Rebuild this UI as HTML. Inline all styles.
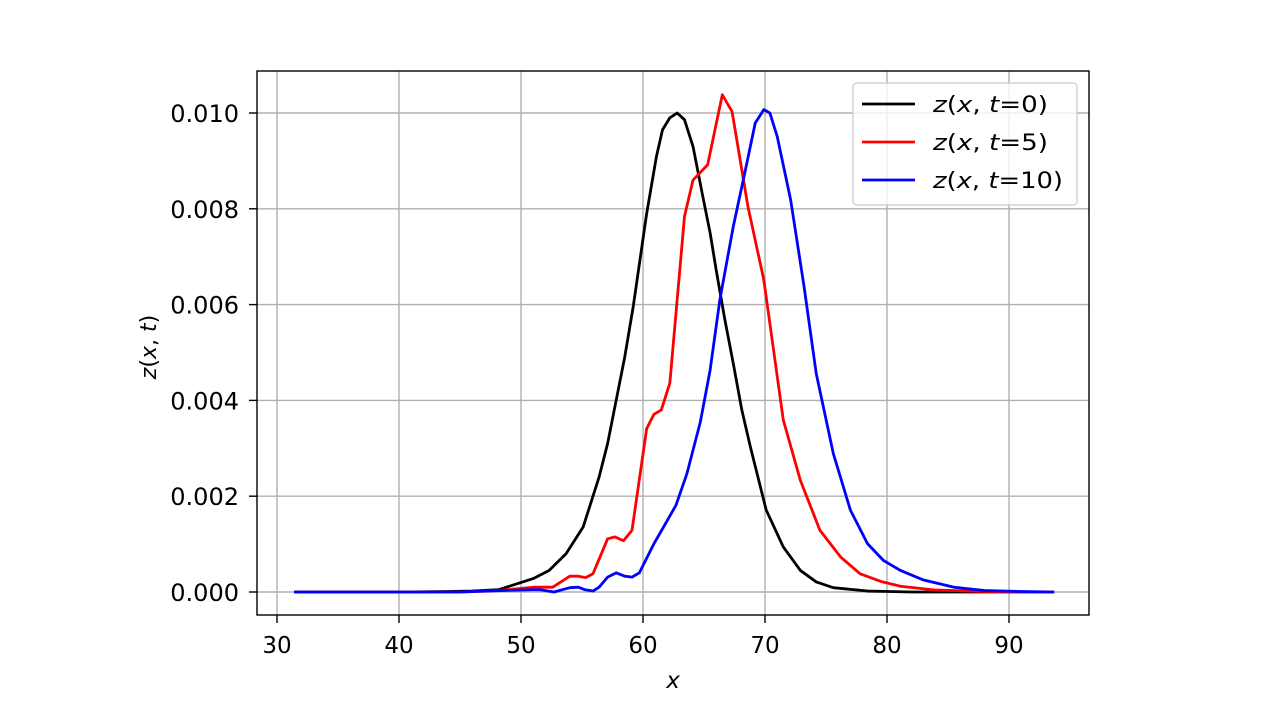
<!DOCTYPE html>
<html><head><meta charset="utf-8"><style>
body{margin:0;background:#fff;}
svg{display:block;font-family:"DejaVu Sans","Liberation Sans",sans-serif;}
</style></head><body>
<svg id="chart" width="1280" height="720">
<g id="grid"></g>
<g id="series"></g>
<rect x="257" y="71" width="832" height="544" fill="none" stroke="#000" stroke-width="1.4"/>
<g id="ticks"></g>
<text x="673" y="688" font-size="23" font-style="italic" text-anchor="middle">x</text>
<text transform="translate(156,347) rotate(-90)" font-size="22" text-anchor="middle"><tspan font-style="italic">z</tspan>(<tspan font-style="italic">x</tspan>, <tspan font-style="italic">t</tspan>)</text>
<g>
<rect x="853" y="83" width="224" height="122" rx="4" fill="#fff" fill-opacity="0.8" stroke="#ccc" stroke-width="1.3"/>
<line x1="862" y1="104" x2="915" y2="104" stroke="#000" stroke-width="2.8"/>
<text x="933" y="112" font-size="22" textLength="115" lengthAdjust="spacingAndGlyphs"><tspan font-style="italic">z</tspan>(<tspan font-style="italic">x</tspan>, <tspan font-style="italic">t</tspan>=0)</text>
<line x1="862" y1="142" x2="915" y2="142" stroke="#f00" stroke-width="2.8"/>
<text x="933" y="150" font-size="22" textLength="115" lengthAdjust="spacingAndGlyphs"><tspan font-style="italic">z</tspan>(<tspan font-style="italic">x</tspan>, <tspan font-style="italic">t</tspan>=5)</text>
<line x1="862" y1="180" x2="915" y2="180" stroke="#00f" stroke-width="2.8"/>
<text x="933" y="188" font-size="22" textLength="130" lengthAdjust="spacingAndGlyphs"><tspan font-style="italic">z</tspan>(<tspan font-style="italic">x</tspan>, <tspan font-style="italic">t</tspan>=10)</text>
</g>
</svg>
<script>
const xTicks=[30,40,50,60,70,80,90];
const yTicks=[0,0.002,0.004,0.006,0.008,0.010];
const yTickLabels=["0.000","0.002","0.004","0.006","0.008","0.010"];
const blackX=[31.4,40,44,46,48.2,51.0,52.3,53.7,55.1,56.4,57.1,57.8,58.5,59.2,60.3,61.1,61.6,62.2,62.8,63.4,64.1,64.9,65.5,66.0,66.7,67.4,68.1,68.8,70.1,71.5,72.9,74.2,75.6,78.4,82,93.7];
const blackY=[0,0,0.00001,0.00002,0.00005,0.00028,0.00045,0.0008,0.00136,0.0024,0.0031,0.004,0.0049,0.00596,0.0079,0.00909,0.00965,0.0099,0.01,0.00986,0.0093,0.00826,0.0075,0.00672,0.0057,0.00477,0.0038,0.00303,0.00171,0.00094,0.00045,0.00021,0.00009,0.00002,0,0];
const redX=[31.4,45,48.2,51.0,52.6,54.0,54.7,55.3,55.9,57.1,57.7,58.4,59.1,60.3,60.9,61.5,62.2,63.4,64.1,65.3,66.5,67.3,68.6,69.9,71.5,72.9,74.5,76.2,77.8,79.5,81.1,84,88,93.7];
const redY=[0,0,0.00003,0.0001,0.0001,0.00033,0.00033,0.0003,0.00038,0.00111,0.00115,0.00107,0.00129,0.00341,0.00371,0.0038,0.00436,0.00784,0.0086,0.00892,0.01038,0.01003,0.00805,0.00652,0.00359,0.00233,0.00129,0.00073,0.00038,0.00022,0.00012,0.00004,0.00001,0];
const blueX=[31.4,45,48.2,51.5,52.7,54.0,54.7,55.2,55.9,56.4,57.1,57.8,58.5,59.1,59.7,60.9,61.6,62.7,63.6,64.7,65.5,66.3,67.4,68.4,69.2,69.9,70.4,71.0,72.1,73.2,74.2,75.6,77.0,78.4,79.7,81.1,83,85.5,88,91,93.7];
const blueY=[0,0,0.00003,0.00005,0,0.00009,0.0001,0.00005,0.00002,0.0001,0.00031,0.0004,0.00033,0.00031,0.0004,0.00101,0.00132,0.00181,0.00247,0.00355,0.00463,0.0061,0.00763,0.00882,0.00979,0.01007,0.01,0.00951,0.00819,0.00638,0.00456,0.00289,0.00171,0.00101,0.00066,0.00045,0.00025,0.0001,0.00003,0.00001,0];
const X=v=>277+(v-30)*12.2;
const Y=v=>592-v*47900;
const NS='http://www.w3.org/2000/svg';
const grid=document.getElementById('grid'),ticks=document.getElementById('ticks'),ser=document.getElementById('series');
function mk(tag,attrs,parent){const e=document.createElementNS(NS,tag);for(const k in attrs)e.setAttribute(k,attrs[k]);parent.appendChild(e);return e;}
xTicks.forEach(v=>{
 const g=mk('line',{x1:X(v),x2:X(v),y1:71,y2:615,stroke:'#b0b0b0','stroke-width':1.4},grid);
 
 
 const t=mk('line',{x1:X(v),x2:X(v),y1:615,y2:623,stroke:'#000','stroke-width':1.4},ticks);
 
 
 const l=mk('text',{x:X(v),y:653,'font-size':23,'text-anchor':'middle'},ticks);l.textContent=v;
 
 
});
yTicks.forEach((v,i)=>{
 const g=mk('line',{x1:257,x2:1089,y1:Y(v),y2:Y(v),stroke:'#b0b0b0','stroke-width':1.4},grid);
 
 
 const t=mk('line',{x1:249,x2:257,y1:Y(v),y2:Y(v),stroke:'#000','stroke-width':1.4},ticks);
 
 
 const l=mk('text',{x:239,y:Y(v)+9,'font-size':24,'text-anchor':'end'},ticks);l.textContent=yTickLabels[i];
 
 
});
[[blackX,blackY,'#000','line-t0'],[redX,redY,'#f00','line-t5'],[blueX,blueY,'#00f','line-t10']].forEach(([xs,ys,c,n])=>{
 const p=mk('polyline',{points:xs.map((x,i)=>X(x)+','+Y(ys[i])).join(' '),fill:'none',stroke:c,'stroke-width':2.8,'stroke-linejoin':'round'},ser);
 
 
});
</script>
</body></html>
